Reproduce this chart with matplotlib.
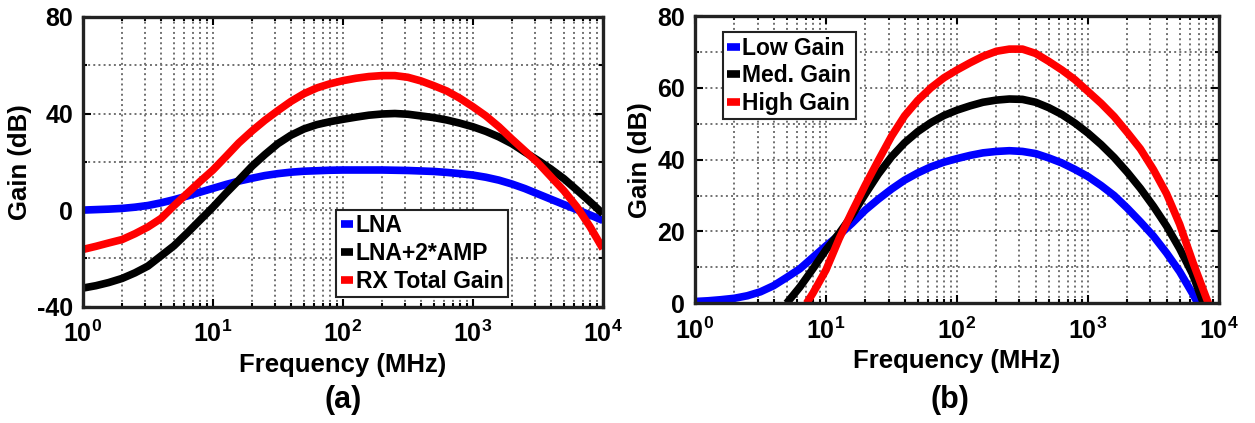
import matplotlib
matplotlib.use('Agg')
import matplotlib.pyplot as plt
import numpy as np
from matplotlib.ticker import LogLocator, FixedLocator, NullFormatter

# ---- data ----
# (a) receiver chain, 10 points per decade
freq_a = [1, 1.26, 1.58, 2, 2.51, 3.16, 3.98, 5.01, 6.31, 7.94,
          10, 12.6, 15.8, 20, 25.1, 31.6, 39.8, 50.1, 63.1, 79.4,
          100, 126, 158, 200, 251, 316, 398, 501, 631, 794,
          1000, 1259, 1585, 1995, 2512, 3162, 3981, 5012, 6310, 7943, 10000]
lna = [0.0, 0.2, 0.4, 0.7, 1.2, 1.9, 3.0, 4.3, 5.8, 7.4,
       9.0, 10.6, 12.0, 13.2, 14.3, 15.1, 15.7, 16.1, 16.3, 16.5,
       16.6, 16.6, 16.6, 16.6, 16.5, 16.4, 16.2, 16.0, 15.6, 15.1,
       14.5, 13.6, 12.4, 10.8, 8.9, 6.7, 4.5, 2.3, 0.2, -2.0, -4.3]
lna_amp = [-32.3, -31.3, -30.0, -28.3, -26.0, -23.2, -19.0, -14.8, -9.6, -4.2,
           1.2, 7.0, 12.4, 18.2, 23.0, 27.5, 31.0, 33.6, 35.4, 36.6,
           37.6, 38.5, 39.3, 39.8, 40.0, 39.7, 39.0, 38.3, 37.3, 36.0,
           34.5, 32.6, 30.3, 27.5, 24.0, 20.6, 17.0, 13.0, 8.3, 3.5, -1.5]
rx_total = [-16.3, -15.0, -13.6, -12.2, -9.8, -7.0, -3.5, 1.8, 6.8, 11.8,
            16.6, 22.2, 27.8, 32.8, 37.2, 41.2, 45.0, 48.2, 50.6, 52.3,
            53.6, 54.6, 55.3, 55.7, 55.7, 55.0, 53.5, 51.5, 49.3, 46.3,
            42.8, 39.0, 34.5, 29.4, 24.5, 19.6, 13.8, 8.0, 1.3, -6.8, -16.0]
labels_a = ['LNA', 'LNA+2*AMP', 'RX Total Gain']

# (b) gain modes
freq_low = [1, 1.26, 1.58, 2, 2.51, 3.16, 3.98, 5.01, 6.31, 7.94,
            10, 12.6, 15.8, 20, 25.1, 31.6, 39.8, 50.1, 63.1, 79.4,
            100, 126, 158, 200, 251, 316, 398, 501, 631, 794,
            1000, 1259, 1585, 1995, 2512, 3162, 3981, 5012, 6310, 6900]
low_gain = [0.5, 0.7, 1.0, 1.4, 2.1, 3.2, 4.9, 7.2, 9.6, 12.8,
            16.0, 19.0, 22.3, 26.0, 29.0, 31.8, 34.3, 36.3, 38.0, 39.3,
            40.3, 41.2, 41.9, 42.3, 42.5, 42.3, 41.7, 40.5, 39.1, 37.3,
            35.3, 32.8, 30.0, 26.5, 22.7, 18.7, 14.0, 8.8, 2.6, 0.0]
freq_med = [5.0, 6.31, 7.94,
            10, 12.6, 15.8, 20, 25.1, 31.6, 39.8, 50.1, 63.1, 79.4,
            100, 126, 158, 200, 251, 316, 398, 501, 631, 794,
            1000, 1259, 1585, 1995, 2512, 3162, 3981, 5012, 6310, 7600]
med_gain = [0.0, 4.5, 9.6,
            14.9, 19.5, 24.5, 30.5, 36.0, 40.8, 44.7, 47.8, 50.3, 52.3,
            53.8, 55.0, 56.0, 56.6, 56.9, 56.8, 56.0, 54.5, 52.6, 50.2,
            47.4, 44.2, 40.6, 36.5, 32.0, 27.0, 21.5, 15.2, 8.0, 0.0]
freq_high = [7.1, 7.94,
             10, 12.6, 15.8, 20, 25.1, 31.6, 39.8, 50.1, 63.1, 79.4,
             100, 126, 158, 200, 251, 316, 398, 501, 631, 794,
             1000, 1259, 1585, 1995, 2512, 3162, 3981, 5012, 6310, 7943, 8300]
high_gain = [0.0, 2.8,
             9.3, 18.0, 25.5, 33.0, 39.8, 46.5, 52.2, 56.5, 60.0, 62.8,
             65.0, 67.0, 68.8, 70.2, 70.8, 70.8, 69.6, 67.4, 65.0, 62.3,
             59.0, 55.7, 52.0, 47.6, 43.0, 37.2, 30.5, 22.0, 11.5, 1.8, 0.0]
labels_b = ['Low Gain', 'Med. Gain', 'High Gain']

colors = ['#0000ff', '#000000', '#ff0000']

plt.rcParams['font.family'] = 'Liberation Sans'
plt.rcParams['font.weight'] = 'bold'
plt.rcParams['axes.unicode_minus'] = False
plt.rcParams['mathtext.fontset'] = 'custom'
plt.rcParams['mathtext.rm'] = 'Liberation Sans:bold'
plt.rcParams['mathtext.bf'] = 'Liberation Sans:bold'

fig = plt.figure(figsize=(12.55, 4.23), dpi=100)
ax1 = fig.add_axes([0.0661, 0.275, 0.4143, 0.685])
ax2 = fig.add_axes([0.5538, 0.283, 0.4175, 0.679])


def style(ax, ymin, ymax, ymaj, ymin_step):
    ax.set_xscale('log')
    ax.set_xlim(1, 1e4)
    ax.set_ylim(ymin, ymax)
    ax.xaxis.set_major_locator(FixedLocator([1, 10, 100, 1000, 10000]))
    ax.xaxis.set_minor_locator(LogLocator(base=10, subs=np.arange(2, 10), numticks=20))
    ax.xaxis.set_minor_formatter(NullFormatter())
    ax.set_xticklabels([r'$\mathbf{10^{%d}}$' % k for k in range(5)])
    ax.yaxis.set_major_locator(FixedLocator(np.arange(ymin, ymax + 1, ymaj)))
    ax.yaxis.set_minor_locator(FixedLocator(np.arange(ymin, ymax + 1, ymin_step)))
    ax.grid(True, which='both', linestyle=':', color='#707070', linewidth=1.4)
    ax.tick_params(which='both', direction='in', top=True, right=True,
                   labelsize=18, width=1.5)
    ax.tick_params(which='major', length=6)
    ax.tick_params(axis='x', which='major', pad=10)
    ax.tick_params(axis='y', which='major', pad=7)
    ax.tick_params(which='minor', length=3)
    for s in ax.spines.values():
        s.set_linewidth(2.4)
        s.set_color('#222222')
    ax.set_xlabel('Frequency (MHz)', fontsize=18.5, fontweight='bold', labelpad=4)
    ax.set_ylabel('Gain (dB)', fontsize=18.5, fontweight='bold', labelpad=4)


# (a)
for y, c, lab in zip([lna, lna_amp, rx_total], colors, labels_a):
    ax1.plot(freq_a, y, color=c, lw=5.5, label=lab, solid_capstyle='butt')
style(ax1, -40, 80, 40, 20)
leg = ax1.legend(loc='lower left', bbox_to_anchor=(0.487, 0.033), fontsize=16.5,
                 handlelength=0.55, handletextpad=0.1, labelspacing=0.2,
                 borderpad=0.2, borderaxespad=0, fancybox=False, framealpha=1,
                 edgecolor='#222222')
leg.get_frame().set_linewidth(1.5)

# (b)
for x, y, c, lab in zip([freq_low, freq_med, freq_high], [low_gain, med_gain, high_gain],
                        colors, labels_b):
    ax2.plot(x, y, color=c, lw=5.5, label=lab, solid_capstyle='butt')
style(ax2, 0, 80, 20, 10)
leg = ax2.legend(loc='upper left', bbox_to_anchor=(0.053, 0.944), fontsize=16.5,
                 handlelength=0.55, handletextpad=0.1, labelspacing=0.2,
                 borderpad=0.2, borderaxespad=0, fancybox=False, framealpha=1,
                 edgecolor='#222222')
leg.get_frame().set_linewidth(1.5)

fig.text(0.2733, 0.055, '(a)', ha='center', va='center', fontsize=22, fontweight='bold')
fig.text(0.757, 0.055, '(b)', ha='center', va='center', fontsize=22, fontweight='bold')

fig.savefig('out.png', dpi=100)
